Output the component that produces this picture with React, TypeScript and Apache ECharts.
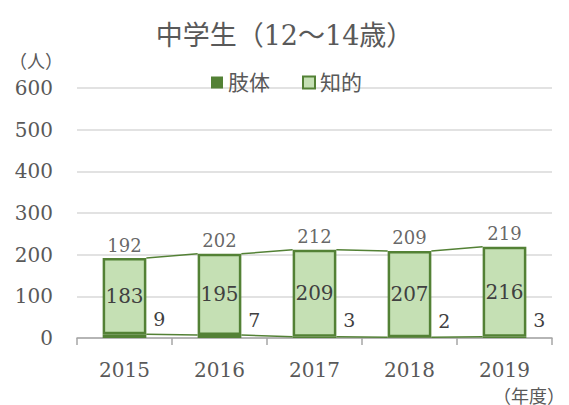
import React, { useEffect, useRef } from "react";
import * as echarts from "echarts";

const years = ["2015", "2016", "2017", "2018", "2019"];
const shitai = [9, 7, 3, 2, 3];
const chiteki = [183, 195, 209, 207, 216];
const totals = [192, 202, 212, 209, 219];
const yTicks = [0, 100, 200, 300, 400, 500, 600];

const SERIF = "'DejaVu Serif', 'Noto Sans CJK JP', serif";
const TXT = "#595959";
const LBL = "#404040";
const DARK = "#538135";
const LIGHT = "#C5E0B4";

export default function App() {
  const ref = useRef<HTMLDivElement>(null);
  useEffect(() => {
    if (!ref.current) return;
    const chart = echarts.init(ref.current, undefined, { renderer: "svg" });
    const lineData = years.slice(0, -1).map((_, i) => [i, totals[i], totals[i + 1], shitai[i], shitai[i + 1]]);
    chart.setOption({
      animation: false,
      textStyle: { fontFamily: SERIF },
      title: {
        text: "中学生（12～14歳）",
        left: "center",
        top: 17,
        textStyle: { fontFamily: SERIF, fontSize: 27, fontWeight: "normal", color: TXT },
      },
      legend: {
        data: [
          { name: "肢体", icon: "rect", itemStyle: { color: DARK, borderWidth: 0 } },
          { name: "知的", icon: "rect", itemStyle: { color: LIGHT, borderColor: DARK, borderWidth: 2 } },
        ],
        top: 67,
        left: 206,
        itemWidth: 12,
        itemHeight: 12,
        itemGap: 32,
        textStyle: { fontFamily: SERIF, fontSize: 21, color: TXT },
      },
      grid: { left: 77, right: 17, top: 88, bottom: 67 },
      graphic: [
        { type: "text", left: 9, top: 52, style: { text: "（人）", fontFamily: SERIF, fontSize: 18, fill: TXT } },
        { type: "text", right: 4, top: 387, style: { text: "（年度）", fontFamily: SERIF, fontSize: 18, fill: TXT } },
      ],
      xAxis: {
        type: "category",
        data: years,
        axisLine: { lineStyle: { color: "#a6a6a6", width: 1.5 } },
        axisTick: { show: true, length: 7, lineStyle: { color: "#a6a6a6", width: 1.5 } },
        axisLabel: { fontFamily: SERIF, fontSize: 20, color: TXT, margin: 22 },
      },
      yAxis: {
        type: "value",
        min: yTicks[0],
        max: yTicks[yTicks.length - 1],
        interval: 100,
        axisLine: { show: false },
        axisTick: { show: false },
        axisLabel: { fontFamily: SERIF, fontSize: 20, color: TXT, margin: 24 },
        splitLine: { lineStyle: { color: "#d9d9d9", width: 1.5 } },
      },
      series: [
        {
          name: "肢体",
          type: "bar",
          stack: "a",
          data: shitai,
          barWidth: "46%",
          itemStyle: { color: DARK },
          label: {
            show: true,
            position: "right",
            offset: [0, -17],
            distance: 7,
            fontFamily: SERIF,
            fontSize: 19,
            color: LBL,
          },
        },
        {
          name: "知的",
          type: "bar",
          stack: "a",
          data: chiteki,
          barWidth: "46%",
          itemStyle: { color: LIGHT, borderColor: DARK, borderWidth: 2.5 },
          label: {
            show: true,
            position: "inside",
            fontFamily: SERIF,
            fontSize: 20,
            color: LBL,
          },
        },
        {
          name: "合計",
          type: "scatter",
          data: totals,
          symbolSize: 0,
          silent: true,
          label: {
            show: true,
            position: "top",
            distance: 4,
            fontFamily: SERIF,
            fontSize: 18,
            color: LBL,
          },
          z: 5,
        },
        {
          name: "系列線",
          type: "custom",
          data: lineData,
          encode: { x: 0, y: 1 },
          silent: true,
          z: 1,
          renderItem: (params: any, api: any) => {
            const i = api.value(0);
            const w = api.size([1, 0])[0];
            const half = w * 0.23;
            const a = api.coord([i, api.value(1)]);
            const b = api.coord([i + 1, api.value(2)]);
            const c = api.coord([i, api.value(3)]);
            const d = api.coord([i + 1, api.value(4)]);
            const style = { stroke: DARK, lineWidth: 1.5 };
            return {
              type: "group",
              children: [
                { type: "line", shape: { x1: a[0] + half, y1: a[1], x2: b[0] - half, y2: b[1] }, style },
                { type: "line", shape: { x1: c[0] + half, y1: c[1], x2: d[0] - half, y2: d[1] }, style },
              ],
            };
          },
        },
      ],
    });
    return () => chart.dispose();
  }, []);
  return <div ref={ref} style={{ position: "absolute", left: 0, top: 0, width: 569, height: 405 }} />;
}
